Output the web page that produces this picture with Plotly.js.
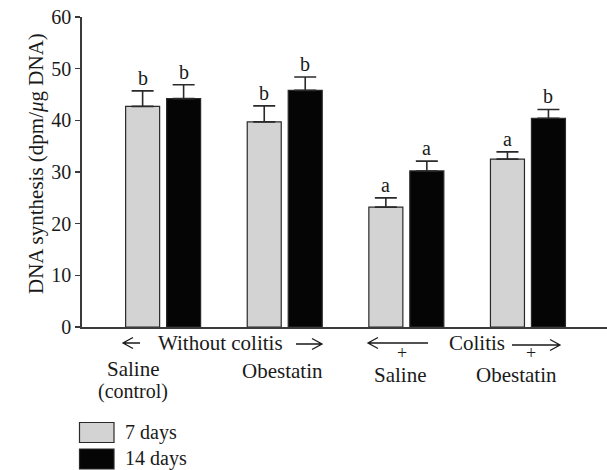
<!DOCTYPE html>
<html>
<head>
<meta charset="utf-8">
<script src="https://cdn.plot.ly/plotly-3.0.1.min.js"></script>
<style>html,body{margin:0;padding:0;background:#fff;}#chart{width:607px;height:470px;}</style>
</head>
<body>
<div id="chart"></div>
<script>
// ---- data ----
var groups = [0, 1, 2, 3];               // Saline(control), Obestatin, Colitis+Saline, Colitis+Obestatin
var days7 = [42.7, 39.7, 23.2, 32.5];
var days7Err = [3.0, 3.1, 1.8, 1.4];
var days14 = [44.2, 45.8, 30.2, 40.4];
var days14Err = [2.7, 2.6, 1.9, 1.7];
var days7Letters = ['b', 'b', 'a', 'a'];
var days14Letters = ['b', 'b', 'a', 'b'];
var seriesNames = ['7 days', '14 days'];
var yTicks = [0, 10, 20, 30, 40, 50, 60];

// ---- layout helpers (pixel -> paper) ----
var L = 82, T = 17, W = 607, H = 470, B = 143;
var PW = W - L, PH = H - T - B;
function X(px) { return (px - L) / PW; }
function Y(py) { return (H - B - py) / PH; }

var FONT = 'Liberation Serif, Times New Roman, serif';
var INK = '#1a1a1a';

var traces = [
  {
    type: 'bar', name: seriesNames[0], x: groups, y: days7,
    marker: {color: '#d3d3d3', line: {color: '#2a2a2a', width: 1.2}},
    error_y: {type: 'data', array: days7Err, arrayminus: days7.map(function(){return 0;}), symmetric: false,
              color: '#2a2a2a', thickness: 1.6, width: 11},
    showlegend: false, hoverinfo: 'skip'
  },
  {
    type: 'bar', name: seriesNames[1], x: groups, y: days14,
    marker: {color: '#050505', line: {color: '#2a2a2a', width: 1.2}},
    error_y: {type: 'data', array: days14Err, arrayminus: days14.map(function(){return 0;}), symmetric: false,
              color: '#2a2a2a', thickness: 1.6, width: 11},
    showlegend: false, hoverinfo: 'skip'
  }
];

var OFF = 0.168;
var annotations = [];
groups.forEach(function(g, i) {
  annotations.push({x: g - OFF, y: days7[i] + days7Err[i], xref: 'x', yref: 'y', text: days7Letters[i],
    showarrow: false, yanchor: 'bottom', yshift: 0, font: {family: FONT, size: 20, color: INK}});
  annotations.push({x: g + OFF, y: days14[i] + days14Err[i], xref: 'x', yref: 'y', text: days14Letters[i],
    showarrow: false, yanchor: 'bottom', yshift: 0, font: {family: FONT, size: 20, color: INK}});
});

function lab(text, px, py, size, xanchor) {
  annotations.push({text: text, x: X(px), y: Y(py), xref: 'paper', yref: 'paper', showarrow: false,
    borderpad: 0, xanchor: xanchor || 'center', yanchor: 'middle',
    font: {family: FONT, size: size, color: INK}});
}
lab('Without colitis', 220, 343, 21);
lab('Colitis', 477, 343, 21);
lab('+', 402, 352.5, 18);
lab('+', 531, 352.5, 18);
lab('Saline', 133, 369, 21);
lab('(control)', 133, 391.5, 20);
lab('Obestatin', 282, 371, 21);
lab('Saline', 400.5, 374.5, 21);
lab('Obestatin', 516, 374.5, 21);
lab('DNA synthesis (dpm/<i>μ</i>g DNA)', 36, 164, 21);
annotations[annotations.length - 1].textangle = -90;
lab(seriesNames[0], 124, 432, 20, 'left');
lab(seriesNames[1], 124, 458, 20, 'left');

function arrow(x1, x2, py, dir) {
  // dir: -1 points left (head at x1), +1 points right (head at x2)
  var hx = dir < 0 ? x1 : x2, s = dir < 0 ? 1 : -1;
  var p = 'M' + X(x1) + ',' + Y(py) + 'L' + X(x2) + ',' + Y(py) +
          'M' + X(hx + s * 10) + ',' + Y(py - 5.5) + 'L' + X(hx) + ',' + Y(py) + 'L' + X(hx + s * 10) + ',' + Y(py + 5.5);
  return {type: 'path', xref: 'paper', yref: 'paper', path: p, line: {color: INK, width: 1.3}};
}
var shapes = [
  arrow(123, 140, 343, -1),
  arrow(296, 322, 344, 1),
  arrow(368, 428, 343, -1),
  arrow(512, 560, 345, 1),
  {type: 'rect', xref: 'paper', yref: 'paper', x0: X(79.5), x1: X(114), y0: Y(442.5), y1: Y(422.5),
   fillcolor: '#d3d3d3', line: {color: '#2a2a2a', width: 1.2}},
  {type: 'rect', xref: 'paper', yref: 'paper', x0: X(79.5), x1: X(114), y0: Y(469), y1: Y(449),
   fillcolor: '#050505', line: {color: '#2a2a2a', width: 1.2}}
];

var layout = {
  width: W, height: H,
  margin: {l: L, r: 0, t: T, b: B, pad: 0},
  paper_bgcolor: '#fff', plot_bgcolor: '#fff',
  barmode: 'group', bargap: 0.326, bargroupgap: 0.17,
  showlegend: false,
  font: {family: FONT, color: INK},
  xaxis: {range: [-0.667, 3.65], showticklabels: false, ticks: '', showgrid: false, zeroline: false,
          showline: true, linecolor: '#3a3a3a', linewidth: 1.6, fixedrange: true},
  yaxis: {range: [0, 60], tickvals: yTicks, ticktext: yTicks.map(String), ticks: 'outside', ticklen: 5,
          tickwidth: 1.5, tickcolor: '#3a3a3a', showgrid: false, zeroline: false, showline: true,
          linecolor: '#3a3a3a', linewidth: 1.8, tickfont: {family: FONT, size: 20, color: INK},
          fixedrange: true},
  annotations: annotations,
  shapes: shapes
};

Plotly.newPlot('chart', traces, layout, {staticPlot: true, displayModeBar: false});
</script>
</body>
</html>
